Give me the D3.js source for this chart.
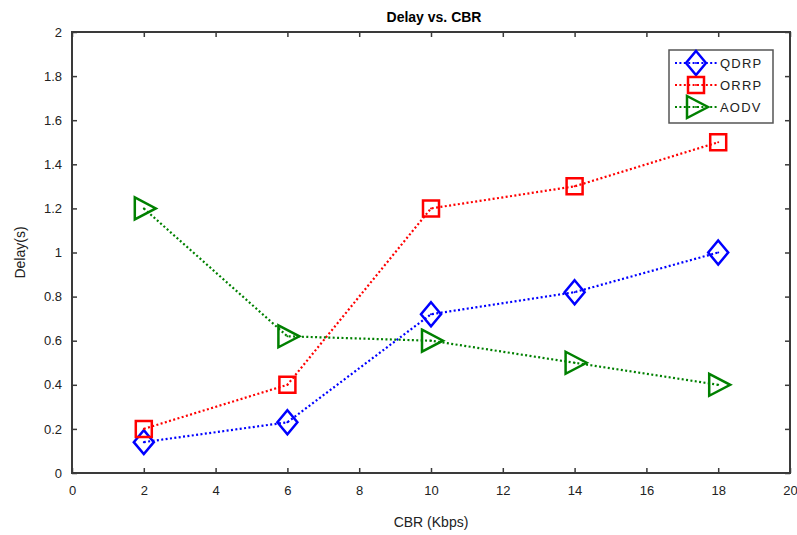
<!DOCTYPE html>
<html><head><meta charset="utf-8">
<script src="https://cdn.jsdelivr.net/npm/d3@7"></script>
<style>body{margin:0;background:#fff}svg{display:block}text{font-family:"Liberation Sans",Arial,sans-serif}</style>
</head><body>
<script>
const xValues = [2, 6, 10, 14, 18];
const qdrp = [0.14, 0.23, 0.72, 0.82, 1.0];
const orrp = [0.2, 0.4, 1.2, 1.3, 1.5];
const aodv = [1.2, 0.62, 0.6, 0.5, 0.4];
const seriesNames = ["QDRP", "ORRP", "AODV"];
const xTicks = [0,2,4,6,8,10,12,14,16,18,20];
const yTicks = [0,0.2,0.4,0.6,0.8,1,1.2,1.4,1.6,1.8,2];

const W = 797, H = 535;
const L = 72, R = 790, T = 32, B = 473;
const svg = d3.select("body").append("svg").attr("width", W).attr("height", H);
const x = d3.scaleLinear().domain([0,20]).range([L,R]);
const y = d3.scaleLinear().domain([0,2]).range([B,T]);
const axisColor = "#3a3a3a";

svg.append("rect").attr("x",L).attr("y",T).attr("width",R-L).attr("height",B-T)
  .attr("fill","none").attr("stroke",axisColor).attr("stroke-width",2);

const gx = svg.append("g").attr("transform",`translate(0,${B})`)
  .call(d3.axisBottom(x).tickValues(xTicks).tickSize(-5).tickPadding(13).tickFormat(d3.format("d")));
const gxt = svg.append("g").attr("transform",`translate(0,${T})`)
  .call(d3.axisTop(x).tickValues(xTicks).tickSize(-5).tickFormat(""));
const gy = svg.append("g").attr("transform",`translate(${L},0)`)
  .call(d3.axisLeft(y).tickValues(yTicks).tickSize(-5).tickPadding(10).tickFormat(d => d3.format("")(+d.toFixed(1))));
const gyr = svg.append("g").attr("transform",`translate(${R},0)`)
  .call(d3.axisRight(y).tickValues(yTicks).tickSize(-5).tickFormat(""));
[gx,gxt,gy,gyr].forEach(g => {
  g.select(".domain").remove();
  g.selectAll(".tick line").attr("stroke",axisColor).attr("stroke-width",1.5);
  g.selectAll("text").attr("fill","#222").attr("font-size",13);
});

svg.append("text").attr("x",(L+R)/2+3).attr("y",22).attr("text-anchor","middle")
  .attr("font-weight","bold").attr("font-size",14).attr("fill","#000").text("Delay vs. CBR");
svg.append("text").attr("x",(L+R)/2).attr("y",527).attr("text-anchor","middle")
  .attr("font-size",14).attr("fill","#222").text("CBR (Kbps)");
svg.append("text").attr("transform",`translate(25,${(T+B)/2}) rotate(-90)`).attr("text-anchor","middle")
  .attr("font-size",14).attr("fill","#222").text("Delay(s)");

const colors = ["#0000ff","#ff0000","#008000"];
const data = [qdrp, orrp, aodv];

function marker(g, kind, cx, cy, color) {
  let p;
  if (kind === 0) p = `M${cx},${cy-12}L${cx+10},${cy}L${cx},${cy+12}L${cx-10},${cy}Z`;
  else if (kind === 1) p = `M${cx-8},${cy-8}H${cx+8}V${cy+8}H${cx-8}Z`;
  else p = `M${cx-9},${cy-11}L${cx+12},${cy}L${cx-9},${cy+11}Z`;
  g.append("path").attr("d",p).attr("fill","none").attr("stroke",color).attr("stroke-width",2.5);
  g.append("circle").attr("cx",cx).attr("cy",cy).attr("r",1).attr("fill",color);
}

const line = d3.line().x((d,i)=>x(xValues[i])).y(d=>y(d));
data.forEach((vals,k) => {
  const g = svg.append("g");
  g.append("path").attr("d",line(vals)).attr("fill","none").attr("stroke",colors[k])
    .attr("stroke-width",2.2).attr("stroke-dasharray","2,2.4");
  vals.forEach((v,i) => marker(g,k,x(xValues[i]),y(v),colors[k]));
});

// legend
const lg = svg.append("g");
lg.append("rect").attr("x",669).attr("y",50).attr("width",104).attr("height",73)
  .attr("fill","#fff").attr("stroke","#555").attr("stroke-width",1.5);
seriesNames.forEach((n,k) => {
  const yy = 63 + k*22;
  lg.append("line").attr("x1",675).attr("x2",717).attr("y1",yy).attr("y2",yy)
    .attr("stroke",colors[k]).attr("stroke-width",2.2).attr("stroke-dasharray","2,2.4");
  marker(lg,k,696,yy,colors[k]);
  lg.append("text").attr("x",720).attr("y",yy+5).attr("font-size",13).attr("letter-spacing",1.2)
    .attr("fill","#222").text(n);
});
</script>
</body></html>
